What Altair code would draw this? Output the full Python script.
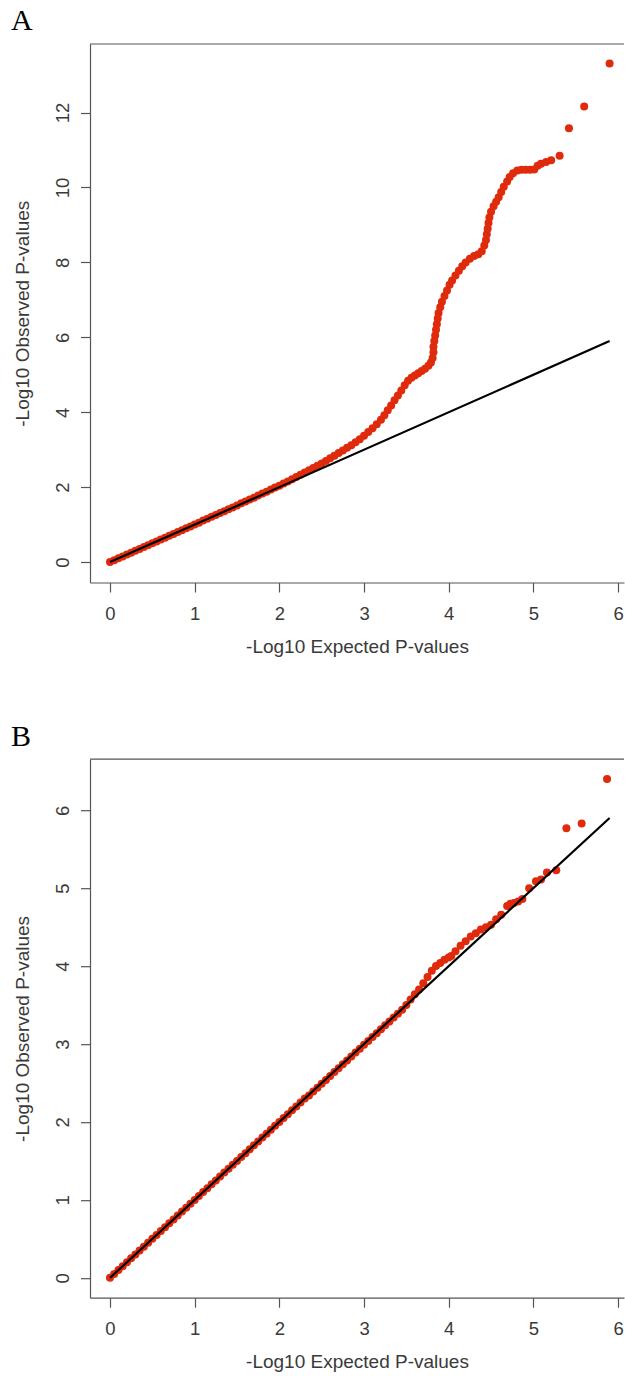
import altair as alt
import pandas as pd

# ---------------- data ----------------
# Panel A: expected vs observed -log10 p
a_expected = [0.00, 0.05, 0.10, 0.15, 0.20, 0.25, 0.30, 0.35, 0.40, 0.45,
              0.50, 0.55, 0.60, 0.65, 0.70, 0.75, 0.80, 0.85, 0.90, 0.95,
              1.00, 1.05, 1.10, 1.15, 1.20, 1.25, 1.30, 1.35, 1.40, 1.45,
              1.50, 1.55, 1.60, 1.65, 1.70, 1.75, 1.80, 1.85, 1.90, 1.95,
              2.00, 2.05, 2.10, 2.15, 2.20, 2.25, 2.30, 2.35, 2.40, 2.45,
              2.50, 2.55, 2.60, 2.65, 2.70, 2.75, 2.80, 2.85, 2.90, 2.95,
              3.00, 3.05, 3.10, 3.15, 3.20, 3.24, 3.28, 3.32, 3.36, 3.40,
              3.44, 3.48, 3.52, 3.56, 3.60, 3.64, 3.68, 3.72, 3.76, 3.79,
              3.81, 3.82, 3.82, 3.83, 3.84, 3.85, 3.86, 3.87, 3.88, 3.90,
              3.92, 3.95, 3.98, 4.01, 4.04, 4.08, 4.12, 4.16, 4.20, 4.25,
              4.30, 4.35, 4.39, 4.42, 4.44, 4.45, 4.46, 4.47, 4.48, 4.50,
              4.53, 4.56, 4.59, 4.62, 4.65, 4.69, 4.72, 4.76, 4.81, 4.86,
              4.91, 4.96, 5.01, 5.05, 5.09, 5.15, 5.21, 5.31, 5.42, 5.60,
              5.90]
a_observed = [0.00, 0.05, 0.10, 0.15, 0.20, 0.25, 0.30, 0.35, 0.40, 0.45,
              0.50, 0.55, 0.60, 0.65, 0.70, 0.75, 0.80, 0.85, 0.90, 0.95,
              1.00, 1.05, 1.11, 1.16, 1.21, 1.26, 1.31, 1.36, 1.41, 1.46,
              1.51, 1.57, 1.62, 1.67, 1.72, 1.78, 1.83, 1.88, 1.94, 1.99,
              2.04, 2.10, 2.15, 2.21, 2.27, 2.33, 2.39, 2.45, 2.51, 2.57,
              2.63, 2.70, 2.77, 2.84, 2.91, 2.98, 3.05, 3.12, 3.20, 3.28,
              3.37, 3.47, 3.57, 3.68, 3.80, 3.92, 4.05, 4.18, 4.32, 4.45,
              4.58, 4.72, 4.84, 4.92, 4.98, 5.04, 5.10, 5.16, 5.24, 5.33,
              5.45, 5.60, 5.75, 5.90, 6.05, 6.20, 6.35, 6.50, 6.65, 6.80,
              6.95, 7.10, 7.25, 7.40, 7.52, 7.65, 7.78, 7.90, 8.00, 8.10,
              8.17, 8.22, 8.30, 8.45, 8.60, 8.75, 8.90, 9.05, 9.20, 9.35,
              9.50, 9.62, 9.74, 9.88, 10.02, 10.16, 10.28, 10.38, 10.45, 10.47,
              10.47, 10.47, 10.48, 10.58, 10.63, 10.68, 10.73, 10.85, 11.58, 12.16,
              13.31]

# Panel B
b_expected = [0.00, 0.05, 0.10, 0.15, 0.20, 0.25, 0.30, 0.35, 0.40, 0.45,
              0.50, 0.55, 0.60, 0.65, 0.70, 0.75, 0.80, 0.85, 0.90, 0.95,
              1.00, 1.05, 1.10, 1.15, 1.20, 1.25, 1.30, 1.35, 1.40, 1.45,
              1.50, 1.55, 1.60, 1.65, 1.70, 1.75, 1.80, 1.85, 1.90, 1.95,
              2.00, 2.05, 2.10, 2.15, 2.20, 2.25, 2.30, 2.35, 2.40, 2.45,
              2.50, 2.55, 2.60, 2.65, 2.70, 2.75, 2.80, 2.85, 2.90, 2.95,
              3.00, 3.05, 3.10, 3.15, 3.20, 3.25, 3.30, 3.35, 3.40, 3.45,
              3.50, 3.55, 3.60, 3.65, 3.70, 3.75, 3.80, 3.85, 3.90, 3.95,
              4.00, 4.03, 4.08, 4.14, 4.20, 4.26, 4.32, 4.38, 4.44, 4.50,
              4.56, 4.62, 4.69, 4.73, 4.77, 4.82, 4.87, 4.95, 5.03, 5.09,
              5.16, 5.27, 5.39, 5.57, 5.87]
b_observed = [0.00, 0.05, 0.10, 0.15, 0.20, 0.25, 0.30, 0.35, 0.40, 0.45,
              0.50, 0.55, 0.60, 0.65, 0.70, 0.75, 0.80, 0.85, 0.90, 0.95,
              1.00, 1.05, 1.10, 1.15, 1.20, 1.25, 1.30, 1.35, 1.40, 1.45,
              1.50, 1.55, 1.60, 1.65, 1.70, 1.75, 1.80, 1.85, 1.90, 1.95,
              2.00, 2.05, 2.10, 2.15, 2.20, 2.25, 2.30, 2.34, 2.39, 2.44,
              2.49, 2.54, 2.59, 2.64, 2.69, 2.74, 2.79, 2.84, 2.89, 2.94,
              2.99, 3.04, 3.09, 3.14, 3.19, 3.24, 3.29, 3.34, 3.39, 3.44,
              3.50, 3.57, 3.64, 3.70, 3.78, 3.86, 3.94, 4.00, 4.04, 4.08,
              4.11, 4.13, 4.19, 4.26, 4.32, 4.38, 4.42, 4.47, 4.50, 4.53,
              4.60, 4.66, 4.77, 4.80, 4.81, 4.83, 4.86, 5.00, 5.09, 5.11,
              5.20, 5.23, 5.77, 5.83, 6.40]

# reference line y = x
line_x = [0.0, 5.9]
line_y = [0.0, 5.9]

x_ticks = [0, 1, 2, 3, 4, 5, 6]
a_y_ticks = [0, 2, 4, 6, 8, 10, 12]
b_y_ticks = [0, 1, 2, 3, 4, 5, 6]

x_domain = [-0.236, 6.07]
a_y_domain = [-0.545, 13.83]
b_y_domain = [-0.255, 6.655]

x_title = "-Log10 Expected P-values"
y_title = "-Log10 Observed P-values"

# ---------------- styling ----------------
W = 534
H = 538.5
RED = "#DF2A0C"
FRAME = "#555555"
TXT = "#3a3a3a"
SANS = "Liberation Sans"


def panel(exp, obs, ydom, yticks, label, anchor=False):
    pts = pd.DataFrame({"e": exp, "o": obs})
    ln = pd.DataFrame({"e": line_x, "o": line_y})

    xenc = alt.X(
        "e:Q",
        scale=alt.Scale(domain=x_domain, nice=False, zero=False),
        axis=alt.Axis(
            values=x_ticks, format="d", title=x_title, grid=False,
            domainColor=FRAME, domainWidth=1.2,
            tickColor=FRAME, tickWidth=1.2, tickSize=9.5,
            labelFont=SANS, labelFontSize=18.5, labelColor=TXT,
            labelAngle=0, labelPadding=12.2, labelFlush=False, labelOverlap=False,
            titleFont=SANS, titleFontSize=19, titleFontWeight="normal", titleColor=TXT,
            titleX=W / 2, titleY=70, titleAlign="center",
            titleBaseline="alphabetic", titleAngle=0,
        ),
    )
    yenc = alt.Y(
        "o:Q",
        scale=alt.Scale(domain=ydom, nice=False, zero=False),
        axis=alt.Axis(
            values=yticks, format="d", title=y_title, grid=False,
            domainColor=FRAME, domainWidth=1.2,
            tickColor=FRAME, tickWidth=1.2, tickSize=9.5,
            labelFont=SANS, labelFontSize=18.5, labelColor=TXT,
            labelAngle=270, labelAlign="center", labelBaseline="alphabetic",
            labelPadding=12.5, labelFlush=False, labelOverlap=False,
            titleFont=SANS, titleFontSize=19, titleFontWeight="normal", titleColor=TXT,
            titleX=-61.5, titleY=H / 2, titleAlign="center",
            titleBaseline="alphabetic", titleAngle=270,
        ),
    )

    points = alt.Chart(pts).mark_circle(size=64, color=RED, opacity=1).encode(x=xenc, y=yenc)
    line = alt.Chart(ln).mark_line(color="black", strokeWidth=2.2).encode(x="e:Q", y="o:Q")
    top = alt.Chart(pd.DataFrame({"k": [0]})).mark_rule(color=FRAME, strokeWidth=1.2).encode(
        x=alt.value(0), x2=alt.value(W), y=alt.value(0)
    )
    lab = alt.Chart(pd.DataFrame({"t": [label]})).mark_text(
        font="Liberation Serif", fontSize=30, align="left", baseline="alphabetic", color="black"
    ).encode(text="t:N", x=alt.value(-79), y=alt.value(-13.7))

    layers = [points, line, top, lab]
    if anchor:
        anc = alt.Chart(pd.DataFrame({"k": [0]})).mark_rule(strokeOpacity=0, opacity=0).encode(
            x=alt.value(-90), y=alt.value(-43.3), y2=alt.value(-43.3)
        )
        layers.append(anc)
    return alt.layer(*layers).properties(width=W, height=H)


pa = panel(a_expected, a_observed, a_y_domain, a_y_ticks, "A", anchor=True)
pb = panel(b_expected, b_observed, b_y_domain, b_y_ticks, "B")

chart = alt.vconcat(pa, pb, spacing=176.2, bounds="flush").properties(
    padding=0
).configure_view(stroke=None)

chart.save("out.html", embed_options={"renderer": "svg", "actions": False})
